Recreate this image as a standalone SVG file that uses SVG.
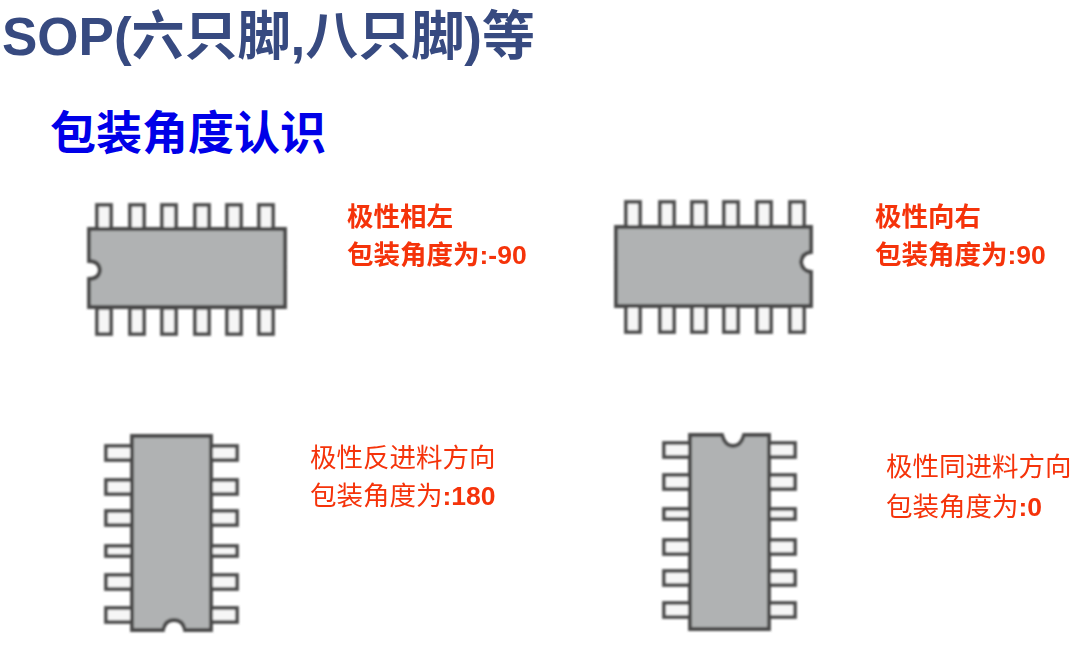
<svg xmlns="http://www.w3.org/2000/svg" width="1080" height="650" viewBox="0 0 1080 650">
<style>
text{font-family:"Liberation Sans","Noto Sans CJK SC",sans-serif}
.title{font-size:53px;font-weight:700;fill:#374a80}
.sub{font-size:46px;font-weight:700;fill:#0000e8}
.lb{font-size:26.500px;font-weight:700;fill:#f5330a}
.lr{font-size:26.500px;font-weight:400;fill:#f5330a}
.lr tspan{font-weight:700}
.pin{fill:#f6f6f6;stroke:#505050;stroke-width:3.800}
.body{fill:#b0b2b3;stroke:#484848;stroke-width:3.800}
.soft{filter:url(#b)}
</style>
<defs>
<filter id="b" x="-5%" y="-5%" width="110%" height="110%"><feGaussianBlur stdDeviation="0.9"/></filter>
<rect id="pv" class="pin" x="-7" y="0" width="14" height="26"/>
<rect id="ph" class="pin" x="0" y="-7" width="26" height="14"/>
<rect id="pht" class="pin" x="0" y="-5" width="26" height="10"/>
</defs>
<text class="title" x="2" y="55">SOP(六只脚,八只脚)等</text>
<text class="sub" x="50" y="149">包装角度认识</text>
<g id="chip-left" class="soft">
<use href="#pv" x="104" y="205"/><use href="#pv" x="137" y="205"/><use href="#pv" x="169" y="205"/><use href="#pv" x="202" y="205"/><use href="#pv" x="234" y="205"/><use href="#pv" x="266" y="205"/>
<use href="#pv" x="104" y="308"/><use href="#pv" x="137" y="308"/><use href="#pv" x="169" y="308"/><use href="#pv" x="202" y="308"/><use href="#pv" x="234" y="308"/><use href="#pv" x="266" y="308"/>
<path class="body" d="M89 229H285V307H89V279Q99 279 100 270Q99 261 89 261Z"/>
</g>
<g id="chip-right" class="soft">
<use href="#pv" x="633" y="202"/><use href="#pv" x="667" y="202"/><use href="#pv" x="699" y="202"/><use href="#pv" x="731" y="202"/><use href="#pv" x="764" y="202"/><use href="#pv" x="797" y="202"/>
<use href="#pv" x="633" y="306"/><use href="#pv" x="667" y="306"/><use href="#pv" x="699" y="306"/><use href="#pv" x="731" y="306"/><use href="#pv" x="764" y="306"/><use href="#pv" x="797" y="306"/>
<path class="body" d="M616 227H811V252Q802 253 801 262Q802 271 811 272V306H616Z"/>
</g>
<g id="chip-bottom" class="soft">
<use href="#ph" x="106" y="453"/><use href="#ph" x="106" y="487"/><use href="#ph" x="106" y="518"/><use href="#pht" x="106" y="551"/><use href="#ph" x="106" y="582"/><use href="#ph" x="106" y="615"/>
<use href="#ph" x="211" y="453"/><use href="#ph" x="211" y="487"/><use href="#ph" x="211" y="518"/><use href="#pht" x="211" y="551"/><use href="#ph" x="211" y="582"/><use href="#ph" x="211" y="615"/>
<path class="body" d="M132 436H211V630H185Q183 620 174 620Q165 620 163 630H132Z"/>
</g>
<g id="chip-top" class="soft">
<use href="#ph" x="664" y="450"/><use href="#ph" x="664" y="482"/><use href="#pht" x="664" y="514"/><use href="#ph" x="664" y="547"/><use href="#ph" x="664" y="578"/><use href="#ph" x="664" y="610"/>
<use href="#ph" x="769" y="450"/><use href="#ph" x="769" y="482"/><use href="#pht" x="769" y="514"/><use href="#ph" x="769" y="547"/><use href="#ph" x="769" y="578"/><use href="#ph" x="769" y="610"/>
<path class="body" d="M690 435H722Q725 446 733 446Q741 446 744 435H769V629H690Z"/>
</g>
<text class="lb" x="347" y="226">极性相左</text>
<text class="lb" x="347" y="264">包装角度为:-90</text>
<text class="lb" x="875" y="226">极性向右</text>
<text class="lb" x="875" y="264">包装角度为:90</text>
<text class="lr" x="310" y="467">极性反进料方向</text>
<text class="lr" x="310" y="505">包装角度为<tspan>:180</tspan></text>
<text class="lr" x="886" y="476">极性同进料方向</text>
<text class="lr" x="886" y="516">包装角度为<tspan>:0</tspan></text>
</svg>
